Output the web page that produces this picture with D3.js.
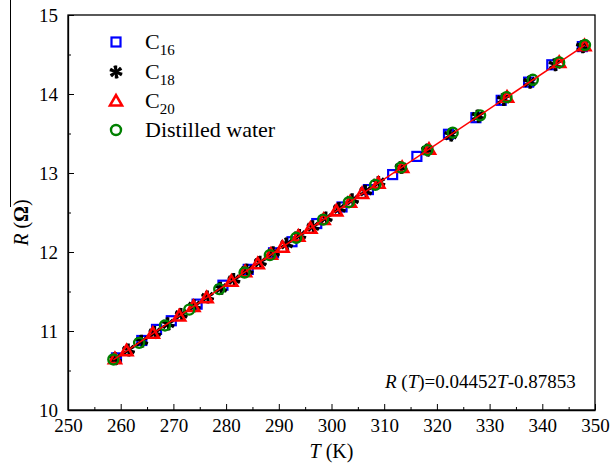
<!DOCTYPE html>
<html>
<head>
<meta charset="utf-8">
<script src="https://cdn.jsdelivr.net/npm/d3@7"></script>
<style>
  body { margin: 0; background: #fff; }
  svg text { font-family: "Liberation Serif", "Times New Roman", Times, "DejaVu Serif", serif; fill: #000; }
</style>
</head>
<body>
<div id="chart"></div>
<script>
// K and ohm
const c16T = [259.2, 264.0, 266.8, 269.6, 274.5, 279.4, 284.2, 289.0, 292.5, 297.2, 302.0, 307.0, 311.6, 316.2, 322.2, 327.4, 332.2, 337.4, 341.8, 347.6];
const c16R = [10.66, 10.88, 11.02, 11.13, 11.34, 11.58, 11.78, 11.99, 12.13, 12.36, 12.57, 12.79, 12.98, 13.21, 13.49, 13.70, 13.92, 14.15, 14.37, 14.60];

const c18T = [259.0, 261.5, 264.0, 266.5, 269.0, 271.5, 274.0, 276.5, 279.0, 281.5, 284.0, 286.5, 289.0, 291.5, 294.0, 296.5, 299.0, 301.5, 304.0, 306.5, 309.0, 313.2, 318.2, 322.6, 327.8, 332.6, 337.6, 342.4, 347.6];
const c18R = [10.65, 10.76, 10.87, 10.98, 11.09, 11.21, 11.32, 11.43, 11.54, 11.65, 11.77, 11.87, 11.99, 12.10, 12.21, 12.32, 12.43, 12.55, 12.66, 12.77, 12.88, 13.07, 13.29, 13.48, 13.72, 13.93, 14.15, 14.37, 14.60];

const c20T = [258.9, 261.1, 266.1, 271.1, 273.8, 276.3, 281.0, 283.6, 286.0, 288.5, 290.7, 293.7, 296.0, 298.5, 300.9, 303.5, 305.8, 308.9, 313.4, 318.5, 333.3, 343.2, 348.0];
const c20R = [10.65, 10.75, 10.97, 11.19, 11.31, 11.42, 11.63, 11.75, 11.85, 11.97, 12.06, 12.20, 12.30, 12.41, 12.52, 12.63, 12.74, 12.87, 13.07, 13.30, 13.96, 14.40, 14.61];

const waterT = [258.6, 263.5, 268.4, 273.0, 278.7, 283.5, 288.3, 293.3, 298.4, 303.3, 308.3, 313.2, 318.2, 323.0, 328.2, 333.2, 338.2, 343.2, 348.1];
const waterR = [10.64, 10.85, 11.07, 11.27, 11.53, 11.74, 11.96, 12.18, 12.41, 12.63, 12.85, 13.07, 13.29, 13.51, 13.73, 13.96, 14.18, 14.40, 14.62];

// fitted line R(T) = 0.04452T - 0.87853
const fitT = [258.6, 348.1];
const fitSlope = 0.04452;
const fitIntercept = -0.87853;

const xTicks = [250, 260, 270, 280, 290, 300, 310, 320, 330, 340, 350];
const yTicks = [10, 11, 12, 13, 14, 15];

const width = 612, height = 464;
const plotLeft = 68, plotRight = 595, plotTop = 15, plotBottom = 410;
const serif = '"Liberation Serif", "Times New Roman", Times, "DejaVu Serif", serif';

const x = d3.scaleLinear().domain([250, 350]).range([plotLeft, plotRight]);
const y = d3.scaleLinear().domain([10, 15]).range([plotBottom, plotTop]);

const svg = d3.select('#chart').append('svg')
    .attr('width', width)
    .attr('height', height)
    .attr('font-family', serif);

// stray line at the far left of the original figure
svg.append('line')
    .attr('x1', 10.5).attr('x2', 10.5)
    .attr('y1', 0).attr('y2', 207)
    .attr('stroke', '#000').attr('stroke-width', 1);

// frame
svg.append('rect')
    .attr('x', plotLeft).attr('y', plotTop)
    .attr('width', plotRight - plotLeft).attr('height', plotBottom - plotTop)
    .attr('fill', 'none').attr('stroke', '#000').attr('stroke-width', 1.3);

// x axis, ticks inside
const xAxis = svg.append('g')
    .attr('transform', `translate(0, ${plotBottom})`)
    .call(d3.axisBottom(x).tickValues(xTicks).tickSizeInner(-6).tickSizeOuter(0).tickPadding(9).tickFormat(d3.format('d')));
xAxis.attr('font-family', serif).attr('font-size', 19);
xAxis.select('.domain').attr('stroke-width', 1.3);

svg.append('g')
    .attr('transform', `translate(0, ${plotBottom})`)
    .call(d3.axisBottom(x).tickValues(d3.range(255, 350, 10)).tickSizeInner(-3).tickSizeOuter(0).tickFormat(''))
    .select('.domain').remove();

const yAxis = svg.append('g')
    .attr('transform', `translate(${plotLeft}, 0)`)
    .call(d3.axisLeft(y).tickValues(yTicks).tickSizeInner(-6).tickSizeOuter(0).tickPadding(10).tickFormat(d3.format('d')));
yAxis.attr('font-family', serif).attr('font-size', 19);
yAxis.select('.domain').attr('stroke-width', 1.3);

svg.append('g')
    .attr('transform', `translate(${plotLeft}, 0)`)
    .call(d3.axisLeft(y).tickValues(d3.range(10.5, 15, 1)).tickSizeInner(-3).tickSizeOuter(0).tickFormat(''))
    .select('.domain').remove();

// axis titles
const xTitle = svg.append('text')
    .attr('x', (plotLeft + plotRight) / 2)
    .attr('y', 458)
    .attr('text-anchor', 'middle')
    .attr('font-size', 20);
xTitle.append('tspan').attr('font-style', 'italic').text('T');
xTitle.append('tspan').text(' (K)');

const yTitle = svg.append('text')
    .attr('transform', `translate(28, ${(plotTop + plotBottom) / 2 + 10}) rotate(-90)`)
    .attr('text-anchor', 'middle')
    .attr('font-size', 20);
yTitle.append('tspan').attr('font-style', 'italic').text('R');
yTitle.append('tspan').text(' (');
yTitle.append('tspan').attr('font-weight', 'bold').text('Ω');
yTitle.append('tspan').text(')');

// marker shapes
const star = d3.symbol().type(d3.symbolAsterisk).size(120);
function drawStar(g, cx, cy) {
    g.append('path')
        .attr('d', star())
        .attr('transform', `translate(${cx}, ${cy})`)
        .attr('stroke', '#000').attr('stroke-width', 2.4).attr('fill', 'none');
    g.append('path')
        .attr('d', star())
        .attr('transform', `translate(${cx}, ${cy}) rotate(45)`)
        .attr('stroke', '#000').attr('stroke-width', 2).attr('fill', 'none');
}
const tri = d3.symbol().type(d3.symbolTriangle).size(62);

const marks = svg.append('g');

// C16
marks.selectAll('.c16').data(c16T).enter()
    .append('rect')
        .attr('class', 'c16')
        .attr('x', (d) => x(d) - 4.5)
        .attr('y', (d, i) => y(c16R[i]) - 4.5)
        .attr('width', 9).attr('height', 9)
        .attr('fill', 'none').attr('stroke', '#0000ff').attr('stroke-width', 2.2);

// C18
c18T.forEach((d, i) => drawStar(marks, x(d), y(c18R[i])));

// C20
marks.selectAll('.c20').data(c20T).enter()
    .append('path')
        .attr('class', 'c20')
        .attr('d', tri())
        .attr('transform', (d, i) => `translate(${x(d)}, ${y(c20R[i]) + 1})`)
        .attr('fill', 'none').attr('stroke', '#ff0000').attr('stroke-width', 2.6);

// distilled water
marks.selectAll('.water').data(waterT).enter()
    .append('circle')
        .attr('class', 'water')
        .attr('cx', (d) => x(d))
        .attr('cy', (d, i) => y(waterR[i]))
        .attr('r', 5)
        .attr('fill', 'none').attr('stroke', '#008000').attr('stroke-width', 2.4);

// fit line
svg.append('line')
    .attr('x1', x(fitT[0])).attr('y1', y(fitSlope * fitT[0] + fitIntercept))
    .attr('x2', x(fitT[1])).attr('y2', y(fitSlope * fitT[1] + fitIntercept))
    .attr('stroke', '#ff0000').attr('stroke-width', 1.5);

// legend
const legend = svg.append('g');
const rows = [42, 72, 101, 130];
const lx = 116, tx = 145;

legend.append('rect')
    .attr('x', lx - 4.5).attr('y', rows[0] - 4.5).attr('width', 9).attr('height', 9)
    .attr('fill', 'none').attr('stroke', '#0000ff').attr('stroke-width', 2.2);
drawStar(legend, lx, rows[1]);
legend.append('path')
    .attr('d', tri())
    .attr('transform', `translate(${lx}, ${rows[2] + 1})`)
    .attr('fill', 'none').attr('stroke', '#ff0000').attr('stroke-width', 2.6);
legend.append('circle')
    .attr('cx', lx).attr('cy', rows[3]).attr('r', 5)
    .attr('fill', 'none').attr('stroke', '#008000').attr('stroke-width', 2.4);

const subs = ['16', '18', '20'];
subs.forEach((s, i) => {
    const t = legend.append('text')
        .attr('x', tx).attr('y', rows[i] + 7)
        .attr('font-size', 22);
    t.append('tspan').text('C');
    t.append('tspan').attr('font-size', 15).attr('dy', 6).text(s);
});
legend.append('text')
    .attr('x', tx).attr('y', rows[3] + 7)
    .attr('font-size', 22)
    .text('Distilled water');

// equation
const eq = svg.append('text')
    .attr('x', 385).attr('y', 388)
    .attr('font-size', 19);
eq.append('tspan').attr('font-style', 'italic').text('R');
eq.append('tspan').text(' (');
eq.append('tspan').attr('font-style', 'italic').text('T');
eq.append('tspan').text(')=0.04452');
eq.append('tspan').attr('font-style', 'italic').text('T');
eq.append('tspan').text('-0.87853');
</script>
</body>
</html>
